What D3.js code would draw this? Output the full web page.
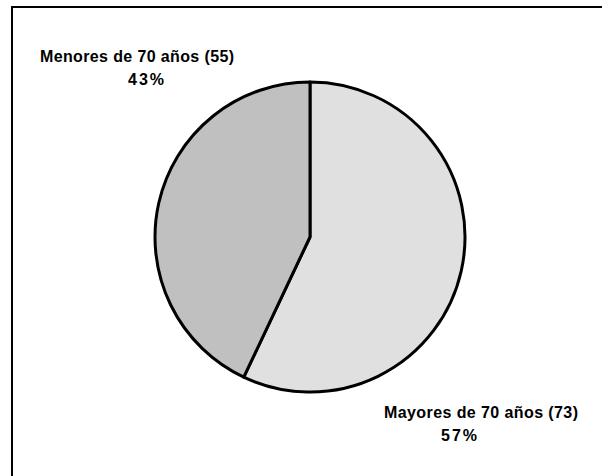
<!DOCTYPE html>
<html lang="es">
<head>
<meta charset="utf-8">
<title>Mayores y menores de 70 años</title>
<script src="https://d3js.org/d3.v7.min.js"></script>
<style>
  body { margin: 0; background: #fff; }
  svg { display: block; }
  .lbl { font-family: 'Liberation Sans', Arial, sans-serif; font-weight: bold; font-size: 16px; fill: #000; }
</style>
</head>
<body>
<svg width="602" height="476"></svg>
<script>
// data
var categories = ["Mayores de 70 años", "Menores de 70 años"];
var counts = [73, 55];
var pctLabels = ["57%", "43%"];
var sliceColors = ["#e0e0e0", "#c0c0c0"];

var svg = d3.select("svg");

// outer frame (runs off the right and bottom edges)
svg.append("rect")
    .attr("x", 12).attr("y", 7)
    .attr("width", 620).attr("height", 500)
    .attr("fill", "none")
    .attr("stroke", "#000")
    .attr("stroke-width", 2);

var cx = 310, cy = 237, radius = 155;

var pie = d3.pie().sort(null).value(function(d) { return d; });
var arc = d3.arc().innerRadius(0).outerRadius(radius);

var g = svg.append("g").attr("transform", "translate(" + cx + "," + cy + ")");

g.selectAll("path")
    .data(pie(counts))
    .enter().append("path")
    .attr("d", arc)
    .attr("fill", function(d, i) { return sliceColors[i]; })
    .attr("stroke", "#000")
    .attr("stroke-width", 3)
    .attr("stroke-linejoin", "round");

// label placement: first line centre/baseline/width, second line centre/baseline
var labelPos = [
  { x1: 481, y1: 418, w1: 194, x2: 460, y2: 441 },
  { x1: 137, y1: 62,  w1: 194, x2: 147, y2: 85 }
];

categories.forEach(function(c, i) {
  var p = labelPos[i];
  svg.append("text")
      .attr("class", "lbl")
      .attr("x", p.x1).attr("y", p.y1)
      .attr("text-anchor", "middle")
      .attr("textLength", p.w1)
      .attr("lengthAdjust", "spacing")
      .text(c + " (" + counts[i] + ")");
  svg.append("text")
      .attr("class", "lbl")
      .attr("x", p.x2).attr("y", p.y2)
      .attr("text-anchor", "middle")
      .attr("letter-spacing", 2)
      .text(pctLabels[i]);
});
</script>
</body>
</html>
